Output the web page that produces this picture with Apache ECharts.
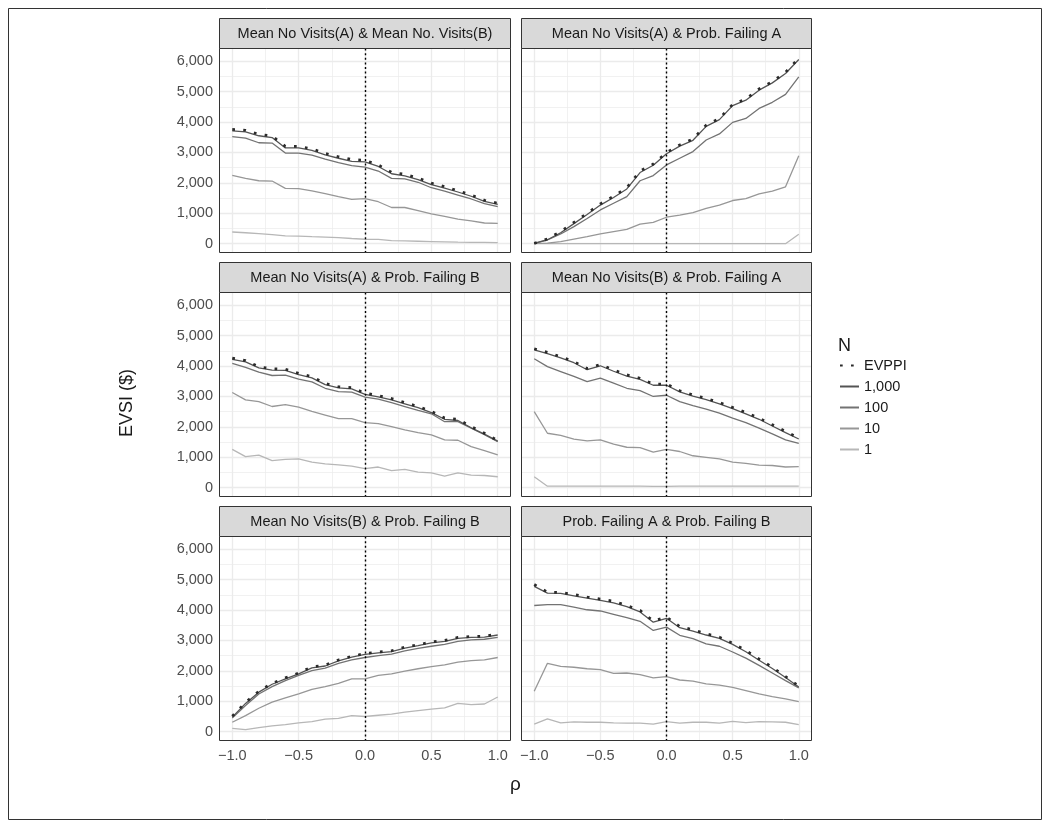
<!DOCTYPE html>
<html><head><meta charset="utf-8">
<script src="https://cdn.jsdelivr.net/npm/echarts@6/dist/echarts.min.js"></script>
<style>html,body{margin:0;padding:0;background:#fff}#c{width:1050px;height:828px}</style>
</head><body><div id="c"></div>
<script>
// ---- data ----
const rho = [-1,-0.9,-0.8,-0.7,-0.6,-0.5,-0.4,-0.3,-0.2,-0.1,0,0.1,0.2,0.3,0.4,0.5,0.6,0.7,0.8,0.9,1];
const panelTitles = [
  'Mean No Visits(A) & Mean No. Visits(B)',
  'Mean No Visits(A) & Prob. Failing A',
  'Mean No Visits(A) & Prob. Failing B',
  'Mean No Visits(B) & Prob. Failing A',
  'Mean No Visits(B) & Prob. Failing B',
  'Prob. Failing A & Prob. Failing B'
];
const seriesNames = ['EVPPI','1,000','100','10','1'];
const evppi = [
  [3760,3730,3600,3540,3200,3200,3120,2970,2860,2770,2740,2590,2350,2280,2160,1990,1880,1740,1600,1430,1330],
  [10,155,400,700,1000,1310,1560,1840,2390,2620,3000,3250,3440,3900,4120,4580,4760,5090,5330,5640,6100],
  [4260,4180,3980,3910,3900,3760,3650,3430,3320,3290,3110,3030,2930,2800,2670,2510,2290,2250,2010,1790,1550],
  [4570,4450,4310,4150,3920,4050,3870,3710,3600,3410,3410,3190,3050,2940,2800,2640,2470,2290,2070,1850,1630],
  [510,960,1330,1590,1770,1930,2130,2190,2360,2480,2570,2620,2660,2780,2860,2950,3000,3100,3130,3140,3210],
  [4840,4590,4580,4510,4430,4360,4290,4150,3990,3640,3770,3460,3350,3220,3110,2910,2670,2390,2120,1810,1500]
];
const n1000 = [
  [3710,3680,3550,3490,3150,3150,3070,2920,2810,2710,2690,2540,2300,2230,2110,1940,1830,1700,1560,1390,1290],
  [10,130,360,660,960,1270,1520,1800,2340,2580,2960,3210,3400,3860,4080,4540,4720,5050,5290,5600,6060],
  [4220,4140,3940,3870,3860,3720,3610,3390,3280,3250,3070,2990,2890,2760,2630,2470,2250,2210,1970,1760,1530],
  [4530,4410,4270,4110,3880,4010,3830,3670,3560,3370,3370,3150,3010,2900,2760,2600,2430,2250,2030,1810,1600],
  [480,930,1300,1560,1740,1900,2100,2160,2330,2450,2540,2590,2630,2750,2830,2920,2970,3070,3100,3110,3180],
  [4780,4560,4550,4470,4390,4320,4240,4110,3940,3600,3730,3420,3310,3180,3070,2870,2630,2350,2080,1780,1470]
];
const n100 = [
  [3520,3470,3320,3310,2980,2980,2910,2780,2670,2570,2520,2390,2150,2130,2020,1840,1730,1600,1470,1320,1220],
  [10,120,320,560,830,1110,1330,1550,2070,2240,2590,2810,3030,3410,3610,3990,4120,4450,4650,4910,5490],
  [4090,3960,3800,3690,3700,3570,3480,3270,3160,3140,2980,2910,2800,2670,2540,2430,2170,2170,1960,1740,1510],
  [4240,3980,3820,3660,3490,3600,3440,3270,3190,3000,3040,2830,2700,2580,2450,2290,2140,1960,1770,1570,1460],
  [450,860,1240,1480,1680,1850,2010,2090,2250,2360,2440,2500,2550,2660,2740,2810,2870,2970,3020,3040,3100],
  [4150,4180,4180,4100,4010,3970,3860,3750,3630,3330,3440,3170,3060,2890,2810,2620,2420,2180,1930,1680,1440]
];
const n10 = [
  [2250,2150,2070,2060,1820,1810,1740,1650,1550,1460,1480,1380,1190,1190,1090,980,900,810,750,680,670],
  [10,20,70,150,230,320,400,470,640,700,870,940,1020,1160,1270,1420,1480,1640,1730,1870,2890],
  [3130,2890,2830,2670,2730,2650,2510,2390,2270,2270,2140,2110,2010,1900,1810,1740,1570,1560,1350,1220,1080],
  [2500,1790,1720,1600,1540,1570,1430,1330,1320,1170,1260,1190,1050,1000,950,840,800,740,730,680,690],
  [310,530,770,970,1110,1240,1390,1480,1590,1740,1740,1850,1900,1990,2070,2140,2200,2290,2340,2360,2440],
  [1330,2250,2150,2120,2070,2040,1920,1930,1880,1770,1810,1700,1660,1570,1530,1460,1350,1240,1150,1080,990]
];
const n1 = [
  [385,360,330,300,260,250,230,215,200,170,145,140,100,90,80,70,60,50,45,40,35],
  [0,0,0,0,0,0,0,0,0,0,0,0,0,0,0,0,0,0,0,0,310],
  [1260,1020,1070,890,930,950,840,780,750,710,630,680,560,600,510,490,380,490,410,400,360],
  [360,50,50,50,50,50,50,50,48,45,45,48,50,48,50,48,50,48,50,50,50],
  [110,70,130,190,230,290,330,410,440,530,500,540,580,640,690,740,780,930,890,910,1140],
  [250,420,290,320,310,310,290,280,280,250,330,280,310,310,280,340,300,330,320,310,230]
];
const yTicks = [0,1000,2000,3000,4000,5000,6000];
const yMinor = [500,1500,2500,3500,4500,5500];
const xTicks = [-1,-0.5,0,0.5,1];
const xMinor = [-0.75,-0.25,0.25,0.75];

// ---- styling ----
const FONT = "'Liberation Sans', Arial, Helvetica, sans-serif";
const styles = {
  'EVPPI': {color:'#2b2b2b', width:2.7, type:[2.7,8.3], cap:'butt'},
  '1,000': {color:'#545454', width:1.3, type:'solid'},
  '100':   {color:'#737373', width:1.3, type:'solid'},
  '10':    {color:'#979797', width:1.3, type:'solid'},
  '1':     {color:'#b7b7b7', width:1.3, type:'solid'}
};
const colLeft = [219, 521], colW = [292, 291], rowTop = [48, 292, 536], H = 205, stripH = 30;
const fmtY = v => yTicks.includes(v) ? String(v).replace(/\B(?=(\d{3})+(?!\d))/g, ',') : '';
const fmtX = v => xTicks.includes(v) ? (v < 0 ? '\u2212' : '') + Math.abs(v).toFixed(1) : '';

const grids = [], xAxes = [], yAxes = [], series = [], graphics = [];
for (let p = 0; p < 6; p++) {
  const r = Math.floor(p / 2), c = p % 2;
  const isBottom = r === 2, isLeft = c === 0;
  grids.push({left: colLeft[c], top: rowTop[r], width: colW[c], height: H, show: false});
  xAxes.push({type:'value', gridIndex:p, min:-1.1, max:1.1,
    splitLine:{show:false}, axisLine:{show:false},
    axisTick:{show:isBottom, length:3, lineStyle:{color:'#333', width:1}, customValues:xTicks},
    axisLabel:{show:isBottom, customValues:xTicks, formatter:fmtX, color:'#4d4d4d', fontSize:14.5, margin:7, fontFamily:FONT}});
  yAxes.push({type:'value', gridIndex:p, min:-306.5, max:6436.5,
    splitLine:{show:false}, axisLine:{show:false},
    axisTick:{show:isLeft, length:3, lineStyle:{color:'#333', width:1}, customValues:yTicks},
    axisLabel:{show:isLeft, customValues:yTicks, formatter:fmtY, color:'#4d4d4d', fontSize:14.5, margin:6, fontFamily:FONT}});

  const gridLines = [];
  yTicks.forEach(v => gridLines.push({yAxis:v}));
  yMinor.forEach(v => gridLines.push({yAxis:v, lineStyle:{width:0.7}}));
  xTicks.forEach(v => gridLines.push({xAxis:v}));
  xMinor.forEach(v => gridLines.push({xAxis:v, lineStyle:{width:0.7}}));

  const sets = {'EVPPI':evppi[p], '1,000':n1000[p], '100':n100[p], '10':n10[p], '1':n1[p]};
  const drawOrder = ['1','10','100','1,000','EVPPI'];
  drawOrder.forEach(name => {
    const st = styles[name];
    const s = {type:'line', name:name, xAxisIndex:p, yAxisIndex:p,
      data: rho.map((x, i) => [x, sets[name][i]]),
      symbol:'none', showSymbol:false, silent:true, animation:false,
      lineStyle:{color:st.color, width:st.width, type:st.type, cap:st.cap || 'butt'},
      itemStyle:{color:st.color}, emphasis:{disabled:true}};
    if (name === '1') {
      s.markLine = {silent:true, symbol:['none','none'], z:1, animation:false,
        label:{show:false}, emphasis:{disabled:true},
        lineStyle:{color:'#ebebeb', width:1.3, type:'solid'}, data:gridLines};
    }
    if (name === 'EVPPI') {
      s.markLine = {silent:true, symbol:['none','none'], z:6, animation:false,
        label:{show:false}, emphasis:{disabled:true},
        lineStyle:{color:'#000', width:1.4, type:[2,2.6]}, data:[{xAxis:0}]};
    }
    series.push(s);
  });

  // panel border
  graphics.push({type:'rect', z:20, silent:true,
    shape:{x:colLeft[c]+0.5, y:rowTop[r]+0.5, width:colW[c]-1, height:H-1},
    style:{fill:null, stroke:'#333', lineWidth:1}});
  // strip
  graphics.push({type:'rect', z:20, silent:true,
    shape:{x:colLeft[c]+0.5, y:rowTop[r]-stripH+0.5, width:colW[c]-1, height:stripH},
    style:{fill:'#d9d9d9', stroke:'#333', lineWidth:1}});
  graphics.push({type:'text', z:21, silent:true,
    x:colLeft[c] + colW[c]/2, y:rowTop[r] - stripH/2 + 0.5,
    style:{text:panelTitles[p], fontSize:14.5, fontFamily:FONT, fill:'#1a1a1a', align:'center', verticalAlign:'middle'}});
}

// outer frame, axis titles, legend title
graphics.push({type:'rect', z:0, silent:true, shape:{x:8.5, y:8.5, width:1033, height:811},
  style:{fill:null, stroke:'#333', lineWidth:1}});
graphics.push({type:'text', silent:true, x:127, y:403, rotation:Math.PI/2,
  style:{text:'EVSI ($)', fontSize:18, fontFamily:FONT, fill:'#1a1a1a', align:'center', verticalAlign:'middle'}});
graphics.push({type:'text', silent:true, x:515.5, y:785,
  style:{text:'\u03c1', fontSize:19, fontFamily:FONT, fill:'#1a1a1a', align:'center', verticalAlign:'middle'}});
graphics.push({type:'text', silent:true, x:838, y:346,
  style:{text:'N', fontSize:18, fontFamily:FONT, fill:'#1a1a1a', align:'left', verticalAlign:'middle'}});

const chart = echarts.init(document.getElementById('c'), null, {renderer:'canvas'});
chart.setOption({
  animation:false,
  backgroundColor:'#ffffff',
  textStyle:{fontFamily:FONT},
  grid:grids, xAxis:xAxes, yAxis:yAxes, series:series,
  legend:{data:seriesNames, orient:'vertical', left:839, top:358, padding:0, itemWidth:19, itemHeight:14, itemGap:6,
    itemStyle:{opacity:0}, selectedMode:false,
    textStyle:{fontSize:14.5, color:'#1a1a1a', fontFamily:FONT}},
  graphic:graphics
});
</script></body></html>
